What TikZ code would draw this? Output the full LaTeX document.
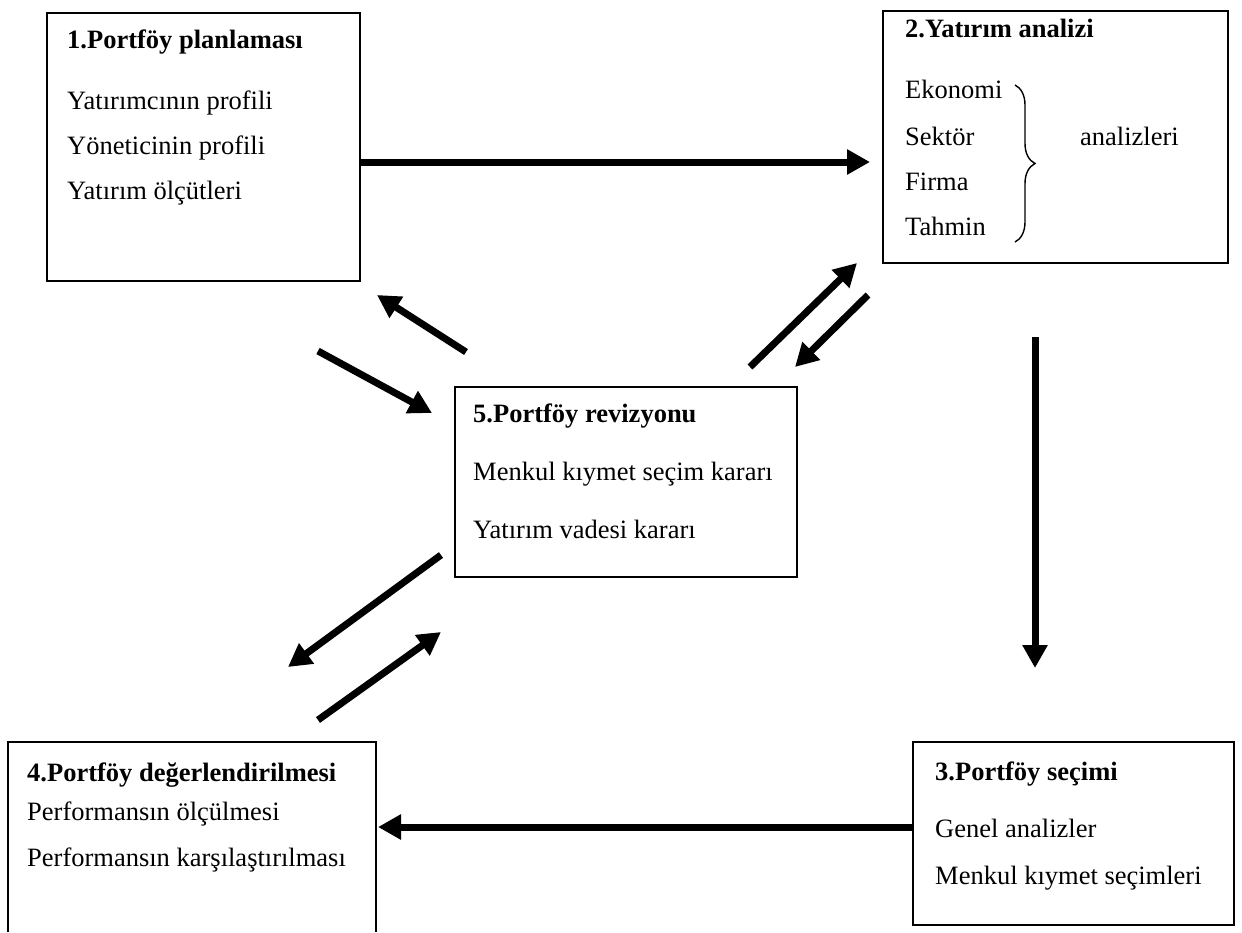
\documentclass[tikz,border=0pt]{standalone}
\usepackage{fontspec}
\setmainfont{Liberation Serif}
\usetikzlibrary{arrows.meta,decorations.pathreplacing}
\tikzset{
  box/.style={draw, line width=1.6pt, inner sep=0pt},
  txt/.style={anchor=base west, inner sep=0pt, font=\fontsize{26.5}{30}\selectfont},
  ttl/.style={anchor=base west, inner sep=0pt, font=\fontsize{26.5}{30}\selectfont\bfseries},
  arr/.style={line width=7pt, -{Triangle[length=23pt,width=24pt]}},
}
\begin{document}
\begin{tikzpicture}[x=1pt,y=-1pt]
\useasboundingbox (0,0) rectangle (1242,932);
% boxes
\node[box, minimum width=313pt, minimum height=268pt] (b1) at (203.5,147) {};
\node[box, minimum width=345pt, minimum height=252pt] (b2) at (1055.5,137) {};
\node[box, minimum width=342pt, minimum height=190pt] (b5) at (626,482) {};
\node[box, minimum width=321pt, minimum height=183pt] (b3) at (1073.5,833.5) {};
\node[inner sep=0pt, minimum width=368pt, minimum height=190pt] (b4) at (192,837) {};
\draw[line width=1.6pt] (b4.south west) -- (b4.north west) -- (b4.north east) -- (b4.south east);
% box 1 text
\node[ttl] (t1) at (67,48) {1.Portföy planlaması};
\node[txt] (t1a) at (67,109) {Yatırımcının profili};
\node[txt] (t1b) at (67,154) {Yöneticinin profili};
\node[txt] (t1c) at (67,199) {Yatırım ölçütleri};
% box 2 text
\node[ttl] (t2) at (905,37) {2.Yatırım analizi};
\node[txt] (t2a) at (905,98) {Ekonomi};
\node[txt] (t2b) at (905,145) {Sektör};
\node[txt] (t2c) at (905,190) {Firma};
\node[txt] (t2d) at (905,235) {Tahmin};
\node[txt] (t2e) at (1080,145) {analizleri};
\coordinate (brtop) at (1015,85);
\coordinate (brbot) at (1015,242);
\draw[line width=1.4pt, decorate, decoration={brace, amplitude=20pt}] (brtop) -- (brbot);
% box 5 text
\node[ttl] (t5) at (473,422) {5.Portföy revizyonu};
\node[txt] (t5a) at (473,480) {Menkul kıymet seçim kararı};
\node[txt] (t5b) at (473,538) {Yatırım vadesi kararı};
% box 4 text
\node[ttl] (t4) at (27,781) {4.Portföy değerlendirilmesi};
\node[txt] (t4a) at (27,820) {Performansın ölçülmesi};
\node[txt] (t4b) at (27,866) {Performansın karşılaştırılması};
% box 3 text
\node[ttl] (t3) at (935,780) {3.Portföy seçimi};
\node[txt] (t3a) at (935,837) {Genel analizler};
\node[txt] (t3b) at (935,884) {Menkul kıymet seçimleri};
% arrow end points
\coordinate (a12s) at (360,162);  \coordinate (a12e) at (870,162);
\coordinate (a23s) at (1035,337); \coordinate (a23e) at (1035,668);
\coordinate (a34s) at (912,827);  \coordinate (a34e) at (378,827);
\coordinate (a51s) at (466,352);  \coordinate (a51e) at (377,295);
\coordinate (a15s) at (318,351);  \coordinate (a15e) at (432,413);
\coordinate (a52s) at (750,367);  \coordinate (a52e) at (857,263);
\coordinate (a25s) at (868,295);  \coordinate (a25e) at (795,367);
\coordinate (a54s) at (441,555);  \coordinate (a54e) at (288,667);
\coordinate (a45s) at (318,720);  \coordinate (a45e) at (441,632);
\draw[arr] (a12s) -- (a12e);
\draw[arr] (a23s) -- (a23e);
\draw[arr] (a34s) -- (a34e);
\draw[arr] (a51s) -- (a51e);
\draw[arr] (a15s) -- (a15e);
\draw[arr] (a52s) -- (a52e);
\draw[arr] (a25s) -- (a25e);
\draw[arr] (a54s) -- (a54e);
\draw[arr] (a45s) -- (a45e);
\end{tikzpicture}
\end{document}
